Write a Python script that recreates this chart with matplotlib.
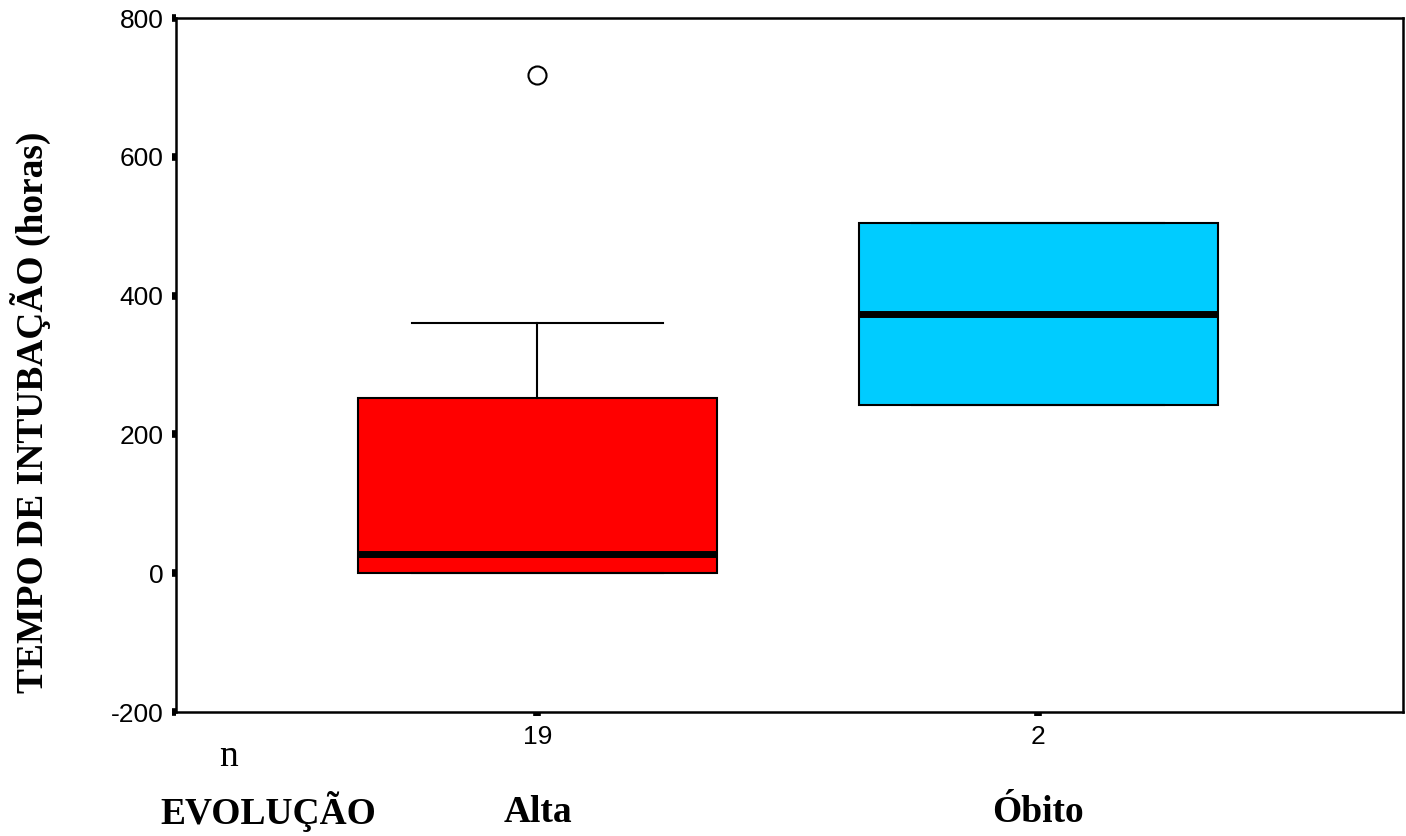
import matplotlib
matplotlib.use("Agg")
import matplotlib.pyplot as plt
import matplotlib.transforms as mtransforms

plt.rcParams['axes.unicode_minus'] = False

# grupos de evolução e estatísticas do tempo de intubação (horas)
grupos = ['Alta', 'Óbito']
n_casos = [19, 2]
medianas = [27, 374]
q1 = [0, 242]
q3 = [253, 505]
bigode_inf = [0, 242]
bigode_sup = [360, 505]
outliers = [[718], []]
cores = ['#ff0000', '#00ccff']

y_ticks = [-200, 0, 200, 400, 600, 800]

stats = []
for i, g in enumerate(grupos):
    stats.append({'label': g, 'med': medianas[i], 'q1': q1[i], 'q3': q3[i],
                  'whislo': bigode_inf[i], 'whishi': bigode_sup[i],
                  'fliers': outliers[i]})

fig = plt.figure(figsize=(14.06, 8.36), dpi=100)
ax = fig.add_axes([176 / 1406, 124 / 836, 1227 / 1406, 694 / 836])

pos = list(range(len(grupos)))
bp = ax.bxp(stats, positions=pos, widths=0.717, capwidths=0.503,
            patch_artist=True,
            boxprops=dict(edgecolor='black', linewidth=1.5),
            medianprops=dict(color='black', linewidth=5, solid_capstyle='butt'),
            whiskerprops=dict(color='black', linewidth=1.5),
            capprops=dict(color='black', linewidth=1.5),
            flierprops=dict(marker='o', markersize=13, markerfacecolor='none',
                            markeredgecolor='black', markeredgewidth=1.5))
for patch, cor in zip(bp['boxes'], cores):
    patch.set_facecolor(cor)

ax.set_xlim(-0.722, 1.729)
ax.set_ylim(-200, 800)
ax.set_yticks(y_ticks)
ax.set_yticklabels([str(v) for v in y_ticks])
ax.set_xticks(pos)
ax.set_xticklabels([str(n) for n in n_casos])

for lbl in ax.get_yticklabels() + ax.get_xticklabels():
    lbl.set_fontfamily('Liberation Sans')
    lbl.set_fontsize(19)

ax.tick_params(axis='both', direction='out', length=3, width=5.5, color='black', pad=6)
for s in ax.spines.values():
    s.set_linewidth(1.8)
    s.set_color('black')

serif = ['Liberation Serif', 'DejaVu Serif']
fig.text(30 / 1406, 1 - 412 / 836, 'TEMPO DE INTUBAÇÃO (horas)', rotation=90,
         ha='center', va='center', family=serif, weight='bold', fontsize=27)
fig.text(228 / 1406, 1 - 757 / 836, 'n', ha='center', va='center',
         family=serif, fontsize=27)
fig.text(268 / 1406, 1 - 812 / 836, 'EVOLUÇÃO', ha='center', va='center',
         family=serif, weight='bold', fontsize=27)

trans = mtransforms.blended_transform_factory(ax.transData, fig.transFigure)
for p, g in zip(pos, grupos):
    ax.text(p, 1 - 812 / 836, g, transform=trans, ha='center', va='center',
            family=serif, weight='bold', fontsize=27)

fig.savefig('out.png', dpi=100)
